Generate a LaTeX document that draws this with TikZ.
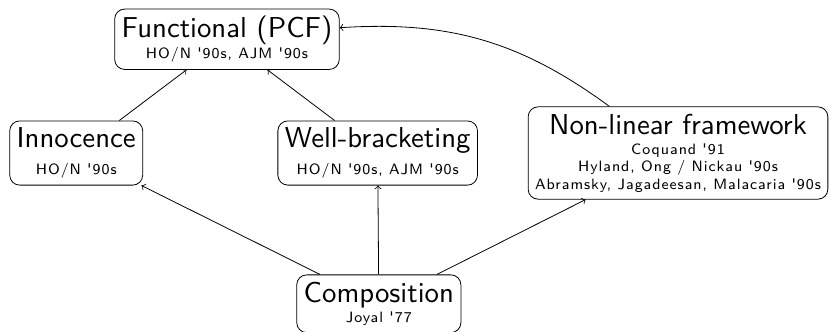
\documentclass[tikz,border=0pt]{standalone}
\usepackage{fontspec}
\usepackage{tikz}
\usetikzlibrary{arrows,positioning}
\newfontfamily\titlesf{lmsans10-regular.otf}
\newfontfamily\refsf[LetterSpace=6.5]{lmsans8-regular.otf}

\begin{document}
\begin{tikzpicture}[
  model/.style={rectangle, draw=black, rounded corners=5pt, align=center, inner sep=3.5pt, font=\fontsize{7.5}{8.75}\selectfont},
  arrow/.style={->}
]
\useasboundingbox (0,0) rectangle (14.68,-5.82);

% Top: the fully abstract model
\node[model] (pcf) at (3.99,-0.69) {{\titlesf\Large Functional (PCF)}\\[0.3pt]{\refsf HO/N '90s, AJM '90s}};

% Middle row
\node[model] (innocence) at (1.34,-2.69) {{\titlesf\Large Innocence}\\[4.5pt]{\refsf HO/N '90s}};
\node[model] (wellbr) at (6.64,-2.69) {{\titlesf\Large Well-bracketing}\\[4.5pt]{\refsf HO/N '90s, AJM '90s}};
\node[model] (nonlinear) at (11.92,-2.69) {{\titlesf\Large Non-linear framework}\\[1.25pt]{\refsf Coquand '91}\\{\refsf Hyland, Ong / Nickau '90s}\\{\refsf Abramsky, Jagadeesan, Malacaria '90s}};

% Bottom
\node[model] (composition) at (6.66,-5.34) {{\titlesf\Large Composition}\\[1.45pt]{\refsf Joyal '77}};

% Composition to middle row
\draw[arrow] (composition) -- (innocence);
\draw[arrow] (composition) -- (wellbr);
\draw[arrow] (composition) -- (nonlinear);

% Middle row to PCF
\draw[arrow] (innocence) -- (pcf);
\draw[arrow] (wellbr) -- (pcf);
\draw[arrow] (nonlinear) to[bend right=20] (pcf);

\end{tikzpicture}
\end{document}
